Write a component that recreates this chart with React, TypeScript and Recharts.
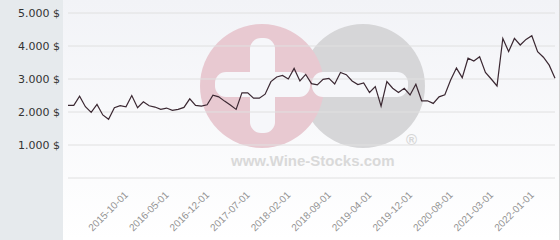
import React from "react";
import { LineChart, Line, XAxis, YAxis, CartesianGrid } from "recharts";

const dates = [
  "2014-11-01", "2014-12-01", "2015-01-01", "2015-02-01", "2015-03-01", "2015-04-01",
  "2015-05-01", "2015-06-01", "2015-07-01", "2015-08-01", "2015-09-01", "2015-10-01",
  "2015-11-01", "2015-12-01", "2016-01-01", "2016-02-01", "2016-03-01", "2016-04-01",
  "2016-05-01", "2016-06-01", "2016-07-01", "2016-08-01", "2016-09-01", "2016-10-01",
  "2016-11-01", "2016-12-01", "2017-01-01", "2017-02-01", "2017-03-01", "2017-04-01",
  "2017-05-01", "2017-06-01", "2017-07-01", "2017-08-01", "2017-09-01", "2017-10-01",
  "2017-11-01", "2017-12-01", "2018-01-01", "2018-02-01", "2018-03-01", "2018-04-01",
  "2018-05-01", "2018-06-01", "2018-07-01", "2018-08-01", "2018-09-01", "2018-10-01",
  "2018-11-01", "2018-12-01", "2019-01-01", "2019-02-01", "2019-03-01", "2019-04-01",
  "2019-05-01", "2019-06-01", "2019-07-01", "2019-09-01", "2019-10-01", "2019-11-01",
  "2019-12-01", "2020-01-01", "2020-02-01", "2020-03-01", "2020-05-01", "2020-06-01",
  "2020-07-01", "2020-08-01", "2020-09-01", "2020-10-01", "2020-11-01", "2020-12-01",
  "2021-01-01", "2021-02-01", "2021-03-01", "2021-04-01", "2021-05-01", "2021-07-01",
  "2021-08-01", "2021-10-01", "2021-11-01", "2022-01-01", "2022-02-01", "2022-03-01",
  "2022-04-01",
];

const prices = [
  2200, 2200, 2480, 2160, 1990, 2230, 1910, 1780, 2130, 2190, 2160, 2500,
  2130, 2310, 2190, 2150, 2080, 2120, 2050, 2080, 2140, 2400, 2200, 2180,
  2220, 2510, 2460, 2330, 2210, 2080, 2580, 2580, 2420, 2420, 2540, 2920,
  3060, 3110, 3000, 3320, 2940, 3140, 2860, 2820, 2990, 3020, 2850, 3200,
  3130, 2940, 2830, 2880, 2590, 2770, 2180, 2920, 2720, 2590, 2720, 2515,
  2840, 2340, 2340, 2260, 2460, 2520, 2970, 3330, 3040, 3630, 3545, 3675,
  3200, 3000, 2790, 4230, 3830, 4230, 4030, 4200, 4310, 3830, 3660, 3420,
  3020,
];

const tickDates = [
  "2015-10-01", "2016-05-01", "2016-12-01", "2017-07-01", "2018-02-01", "2018-09-01",
  "2019-04-01", "2019-12-01", "2020-08-01", "2021-03-01", "2022-01-01",
];

const yTicks = [0, 1000, 2000, 3000, 4000, 5000];

const data = dates.map((d, i) => ({ date: d, price: prices[i] }));

const fmtPrice = (v: number) => (v === 0 ? "" : `${v / 1000}.000 $`);

// rotated date label, end of text sits just left of the tick
const DateTick = (props: any) => {
  const { x, y, payload } = props;
  const ax = x - 3;
  const ay = y + 17.5;
  return (
    <text
      x={ax}
      y={ay}
      transform={`rotate(-45 ${ax} ${ay})`}
      textAnchor="end"
      fill="#939393"
      fontSize={10}
      fontFamily="Liberation Sans"
    >
      {payload.value}
    </text>
  );
};

// faded logo behind the plot
const Watermark = () => (
  <svg width={560} height={240} style={{ position: "absolute", left: 0, top: 0 }}>
    <circle cx={363} cy={86} r={62} fill="#d6d6d8" />
    <circle cx={262} cy={86} r={62} fill="#e8c9d1" />
    <rect x={250} y={38} width={25} height={95} rx={11} fill="#f6f7fa" />
    <rect x={215} y={72} width={95} height={25} rx={11} fill="#f6f7fa" />
    <rect x={312} y={72} width={96} height={25} rx={11} fill="#f6f7fa" />
    <text x={231} y={166} fontFamily="Liberation Sans" fontWeight="bold" fontSize={15} fill="#d9d9d9">
      www.Wine-Stocks.com
    </text>
    <text x={406} y={145} fontFamily="Liberation Sans" fontWeight="bold" fontSize={15} fill="#d6d6d6">
      ®
    </text>
  </svg>
);

const App: React.FC = () => {
  return (
    <div
      style={{
        position: "absolute",
        left: 0,
        top: 0,
        width: 560,
        height: 240,
        overflow: "hidden",
        background: "#ffffff",
        fontFamily: "DejaVu Sans",
      }}
    >
      <div style={{ position: "absolute", left: 0, top: 0, width: 63, height: 240, background: "#e6eaed" }} />
      <div
        style={{
          position: "absolute",
          left: 63,
          top: 0,
          width: 496,
          height: 240,
          background: "linear-gradient(#f2f3f7, #ffffff)",
        }}
      />
      <div style={{ position: "absolute", left: 559, top: 0, width: 1, height: 240, background: "#d2d2d2" }} />
      <Watermark />
      <div style={{ position: "absolute", left: 0, top: 0 }}>
        <LineChart width={560} height={240} data={data} margin={{ top: 13, right: 5, left: 0, bottom: 0 }}>
          <CartesianGrid vertical={false} stroke="#e0e0e0" strokeWidth={1} />
          <XAxis
            dataKey="date"
            ticks={tickDates}
            interval={0}
            height={62}
            axisLine={false}
            tickLine={false}
            tickSize={0}
            tickMargin={0}
            tick={<DateTick />}
          />
          <YAxis
            domain={[0, 5000]}
            ticks={yTicks}
            width={68}
            axisLine={false}
            tickLine={false}
            tickFormatter={fmtPrice}
            tick={{ fill: "#333333", fontSize: 11 }}
          />
          <Line
            type="linear"
            dataKey="price"
            stroke="#3b2832"
            strokeWidth={1.2}
            dot={false}
            isAnimationActive={false}
          />
        </LineChart>
      </div>
    </div>
  );
};

export default App;
